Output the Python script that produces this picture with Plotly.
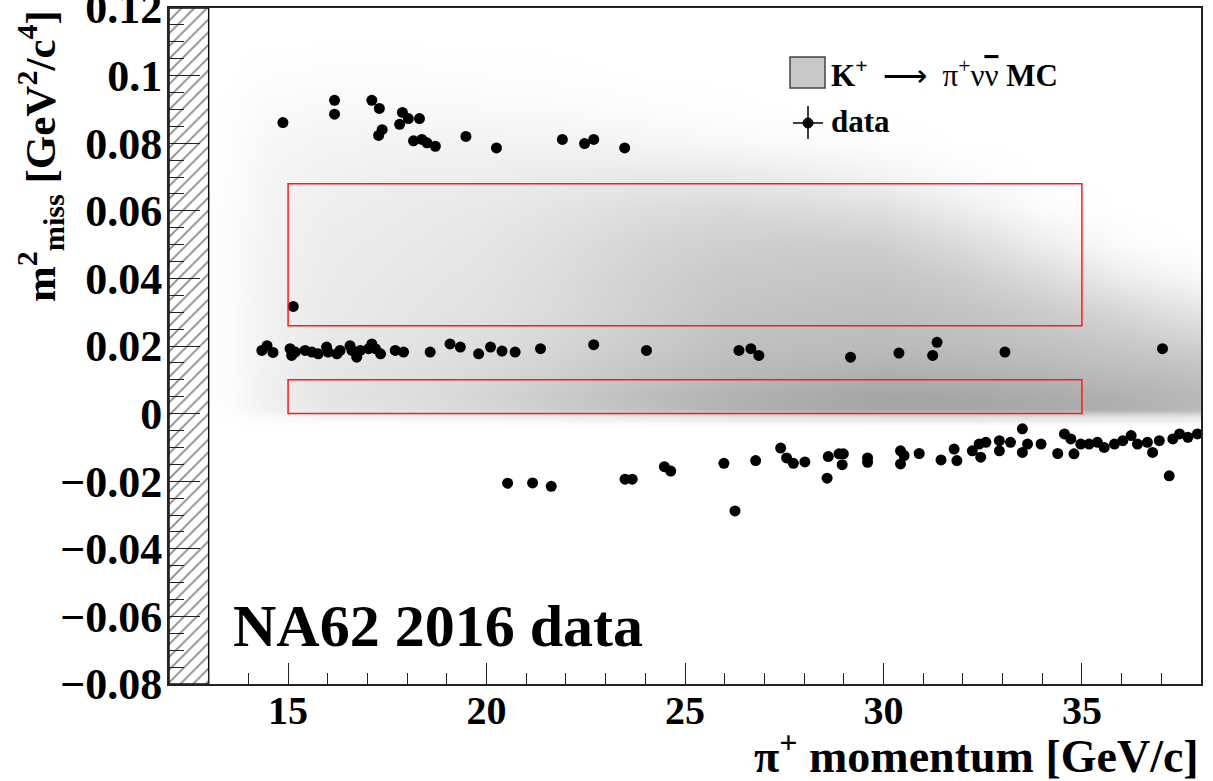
import plotly.graph_objects as go

# ---------------- data ----------------
# MC (K+ -> pi+ nu nubar) density, read as darkness (0 = white) on a coarse grid
mc_p = [12.5, 13.5, 14.5, 16, 18, 20, 22, 24, 26, 28, 30, 32, 34, 36, 37, 38]
mc_m2 = [-0.0035, -0.001, 0.0015, 0.005, 0.01, 0.015, 0.02, 0.03, 0.04, 0.05,
         0.06, 0.07, 0.08, 0.09, 0.10, 0.11]
mc_density_by_p = [
    [0, 0, 0, 0, 0, 0, 0, 0, 0, 0, 0, 0, 0, 0, 0, 0],
    [0, 1, 2, 3, 3, 3, 3, 3, 3, 3, 3, 2, 2, 1, 0, 0],
    [0, 5, 14, 15, 15, 14, 14, 14, 13, 12, 11, 10, 8, 5, 2, 0],
    [0, 9, 25, 27, 26, 24, 23, 21, 20, 19, 17, 14, 11, 7, 3, 0],
    [0, 11, 31, 33, 32, 30, 28, 26, 24, 22, 20, 17, 12, 7, 3, 0],
    [0, 13, 40, 42, 39, 36, 34, 30, 28, 26, 23, 18, 12, 6, 2, 0],
    [0, 16, 52, 54, 50, 46, 42, 38, 36, 33, 28, 21, 12, 5, 1, 0],
    [0, 20, 64, 66, 60, 56, 52, 48, 46, 42, 34, 22, 10, 3, 0, 0],
    [0, 24, 76, 76, 70, 66, 62, 58, 54, 48, 38, 22, 7, 1, 0, 0],
    [0, 27, 84, 84, 76, 70, 66, 62, 56, 50, 36, 18, 4, 0, 0, 0],
    [0, 30, 90, 90, 82, 74, 68, 64, 58, 48, 32, 12, 2, 0, 0, 0],
    [0, 30, 90, 88, 80, 72, 66, 60, 50, 36, 18, 4, 0, 0, 0, 0],
    [0, 29, 86, 84, 76, 68, 62, 52, 36, 18, 4, 0, 0, 0, 0, 0],
    [0, 27, 80, 78, 70, 62, 56, 40, 18, 4, 0, 0, 0, 0, 0, 0],
    [0, 25, 75, 74, 68, 60, 52, 32, 12, 1, 0, 0, 0, 0, 0, 0],
    [0, 24, 70, 70, 64, 56, 46, 26, 7, 0, 0, 0, 0, 0, 0, 0],
]

# data events: pi+ momentum [GeV/c] and m2_miss [GeV^2/c^4]
data_p = [
    14.87, 16.17, 16.17, 17.11, 17.30, 17.37, 17.28, 17.88, 18.03, 18.31, 17.81,
    18.16, 18.37, 18.50, 18.71, 19.48, 20.25, 21.91, 22.47, 22.70, 23.48,
    15.13,
    14.34, 14.47, 14.62, 15.05, 15.09, 15.18, 15.43, 15.60, 15.76, 15.97, 16.01,
    16.23, 16.31, 16.56, 16.61, 16.73, 16.82, 17.03, 17.11, 17.20, 17.33, 17.70,
    17.91, 18.58, 19.08, 19.34, 19.80, 20.10, 20.39, 20.72, 21.36, 22.70, 24.03,
    26.36, 26.66, 26.86, 29.17, 30.39, 31.24, 31.35, 33.06, 37.03,
    20.53, 21.16, 21.63, 23.49, 23.67, 24.48, 24.64, 25.98, 26.26, 26.78, 27.41,
    27.56, 27.73, 28.02, 28.61, 28.58, 28.88, 28.99, 28.96, 29.60, 29.60,
    30.43, 30.52, 30.43, 30.90, 31.45, 31.78, 31.85, 32.24, 32.41, 32.45, 32.58,
    32.92, 32.92, 33.20, 33.50, 33.50, 33.63, 33.97, 34.39, 34.56, 34.72, 34.80,
    34.97, 35.18, 35.39, 35.56, 35.82, 36.03, 36.24, 36.40, 36.65, 36.78, 36.95,
    37.20, 37.29, 37.46, 37.67, 37.91,
]
data_m2 = [
    0.0861, 0.0927, 0.0886, 0.0927, 0.0903, 0.0840, 0.0823, 0.0891, 0.0873, 0.0873, 0.0856,
    0.0807, 0.0811, 0.0801, 0.0791, 0.0820, 0.0786, 0.0811, 0.0799, 0.0811, 0.0786,
    0.0317,
    0.0187, 0.0201, 0.0181, 0.0192, 0.0172, 0.0182, 0.0187, 0.0182, 0.0177, 0.0197, 0.0182,
    0.0177, 0.0187, 0.0201, 0.0187, 0.0167, 0.0187, 0.0192, 0.0206, 0.0192, 0.0177, 0.0187,
    0.0182, 0.0182, 0.0206, 0.0197, 0.0177, 0.0197, 0.0185, 0.0182, 0.0192, 0.0204, 0.0187,
    0.0187, 0.0192, 0.0172, 0.0167, 0.0179, 0.0172, 0.0211, 0.0182, 0.0192,
    -0.0206, -0.0205, -0.0215, -0.0194, -0.0194, -0.0157, -0.0170, -0.0147, -0.0288, -0.0139, -0.0102,
    -0.0131, -0.0147, -0.0143, -0.0127, -0.0191, -0.0119, -0.0119, -0.0151, -0.0131, -0.0144,
    -0.0110, -0.0124, -0.0149, -0.0118, -0.0137, -0.0105, -0.0139, -0.0110, -0.0090, -0.0129, -0.0085,
    -0.0080, -0.0110, -0.0085, -0.0045, -0.0115, -0.0090, -0.0090, -0.0118, -0.0060, -0.0075, -0.0119,
    -0.0090, -0.0090, -0.0085, -0.0100, -0.0090, -0.0080, -0.0065, -0.0090, -0.0085, -0.0115, -0.0080,
    -0.0184, -0.0075, -0.0060, -0.0070, -0.0060,
]

# signal regions (red boxes)
box_p_lo = [15, 15]
box_p_hi = [35, 35]
box_m2_lo = [0.0, 0.026]
box_m2_hi = [0.010, 0.068]

# excluded (hatched) momentum range
excluded_p = [12, 13]

x_range = [12, 38]
y_range = [-0.08, 0.120001]

# ---------------- figure ----------------
SERIF = "Liberation Serif"
mc_z = [list(row) for row in zip(*mc_density_by_p)]

fig = go.Figure()

fig.add_trace(go.Heatmap(
    x=mc_p, y=mc_m2, z=mc_z, zmin=0, zmax=100, zsmooth="best",
    colorscale=[[0, "rgb(255,255,255)"], [1, "rgb(155,155,155)"]],
    showscale=False, hoverinfo="skip",
))

fig.add_trace(go.Bar(
    x=[(excluded_p[0] + excluded_p[1]) / 2], width=[excluded_p[1] - excluded_p[0]],
    base=[y_range[0]], y=[y_range[1] - y_range[0]],
    marker=dict(color="white", line=dict(color="#111", width=1.5),
                pattern=dict(shape="/", fgcolor="#111", bgcolor="white",
                             size=9, solidity=0.2)),
    showlegend=False, hoverinfo="skip",
))

fig.add_trace(go.Scatter(
    x=data_p, y=data_m2, mode="markers",
    marker=dict(symbol="circle", size=11, color="black"),
    showlegend=False, hoverinfo="skip",
))

for x0, x1, y0, y1 in zip(box_p_lo, box_p_hi, box_m2_lo, box_m2_hi):
    fig.add_shape(type="rect", xref="x", yref="y", x0=x0, x1=x1, y0=y0, y1=y1,
                  line=dict(color="#ff1a1a", width=1.5), layer="above")

# ---- custom legend (paper coordinates) ----
L, B, W, H = 169, 684, 1032, 676
def px(x):
    return (x - L) / W
def py(y):
    return (B - y) / H

fig.add_shape(type="rect", xref="paper", yref="paper",
              x0=px(790), x1=px(825), y0=py(88), y1=py(57),
              fillcolor="rgb(200,200,200)", line=dict(color="#444", width=1.5))
fig.add_shape(type="line", xref="paper", yref="paper",
              x0=px(793), x1=px(823), y0=py(123), y1=py(123),
              line=dict(color="black", width=1.5))
fig.add_shape(type="line", xref="paper", yref="paper",
              x0=px(808), x1=px(808), y0=py(106), y1=py(139),
              line=dict(color="black", width=1.5))
fig.add_shape(type="circle", xref="paper", yref="paper",
              x0=px(803), x1=px(813), y0=py(128), y1=py(118),
              fillcolor="black", line=dict(color="black", width=1))

nb = "\u00a0"
fig.add_annotation(xref="paper", yref="paper", x=px(829), y=py(73),
                   xanchor="left", yanchor="middle", showarrow=False,
                   text="<b>K<sup>+</sup></b>" + nb * 2 + "\u27f6" + nb * 2 +
                        "\u03c0<sup>+</sup>\u03bd<span style='text-decoration:overline'>\u03bd</span>"
                        + nb + "<b>MC</b>",
                   font=dict(family=SERIF, size=31, color="black"))
fig.add_annotation(xref="paper", yref="paper", x=px(829), y=py(121),
                   xanchor="left", yanchor="middle", showarrow=False,
                   text="<b>data</b>",
                   font=dict(family=SERIF, size=31, color="black"))

fig.add_annotation(xref="paper", yref="paper", x=px(231), y=py(626),
                   xanchor="left", yanchor="middle", showarrow=False,
                   text="<b>NA62 2016 data</b>",
                   font=dict(family=SERIF, size=60, color="black"))

# axis titles
fig.add_annotation(xref="paper", yref="paper", x=1.0, y=py(784),
                   xanchor="right", yanchor="bottom", showarrow=False,
                   text="<b>\u03c0<sup>+</sup> momentum [GeV/c]</b>",
                   font=dict(family=SERIF, size=46, color="black"))
fig.add_annotation(xref="paper", yref="paper", x=px(40), y=1.0,
                   xanchor="center", yanchor="top", showarrow=False, textangle=-90,
                   text="<b>m<sup>2</sup><sub>miss</sub> [GeV<sup>2</sup>/c<sup>4</sup>]</b>",
                   font=dict(family=SERIF, size=43, color="black"))

axis_common = dict(
    showgrid=False, zeroline=False, showline=True, linecolor="#222", linewidth=2,
    mirror=True, ticks="inside", tickcolor="#222", tickwidth=1.3,
    ticklabeloverflow="allow", automargin=False,
)
fig.update_xaxes(range=x_range, tick0=0, dtick=5, ticklen=21, ticklabelstandoff=-10,
                 tickfont=dict(family=SERIF, size=40, color="black", weight="bold"),
                 minor=dict(ticks="inside", dtick=1, ticklen=11, tickcolor="#222",
                            tickwidth=1.3, showgrid=False),
                 **axis_common)
fig.update_yaxes(range=y_range, tick0=0, dtick=0.02, ticklen=31, ticklabelstandoff=-4,
                 tickfont=dict(family=SERIF, size=44, color="black", weight="bold"),
                 minor=dict(ticks="inside", dtick=0.005, ticklen=15, tickcolor="#222",
                            tickwidth=1.3, showgrid=False),
                 **axis_common)

fig.update_layout(
    width=1213, height=781, autosize=False,
    margin=dict(l=169, r=12, t=8, b=97, autoexpand=False),
    paper_bgcolor="white", plot_bgcolor="white",
    showlegend=False, barmode="overlay",
)

fig.write_html("out.html", config={"displayModeBar": False},
               post_script="document.body.style.margin='0';")
